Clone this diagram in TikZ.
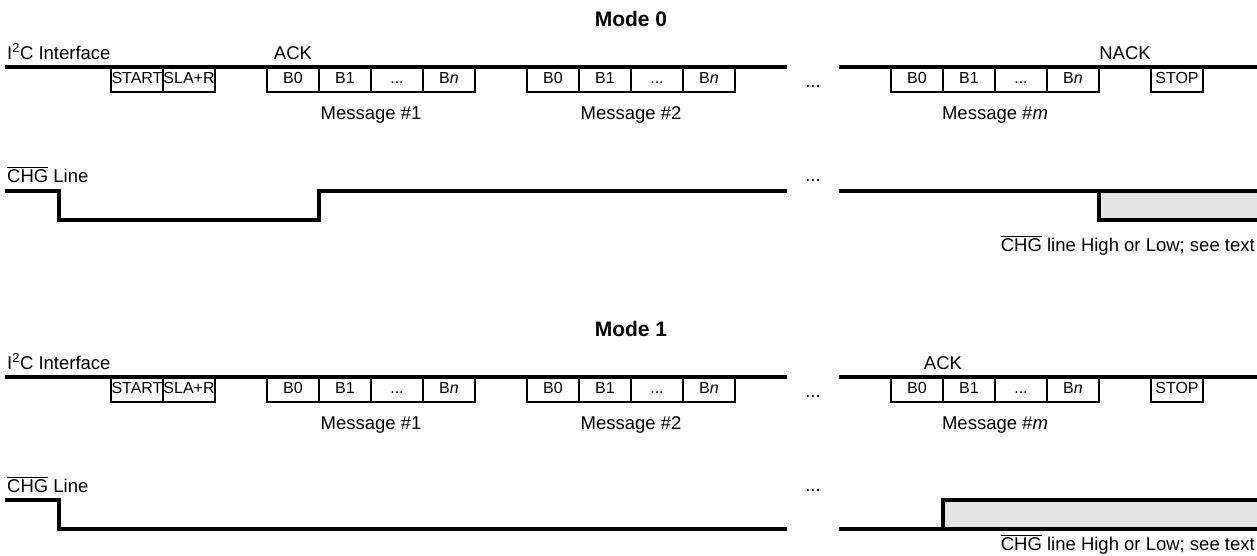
\documentclass[tikz,border=0pt]{standalone}
\usepackage{fontspec}
\setmainfont{Liberation Sans}
\usetikzlibrary{positioning}

\begin{document}
\begin{tikzpicture}[
  x=1pt, y=-1pt,
  lbl/.style={font=\fontsize{18.5}{22}\selectfont, inner sep=0pt},
  ttl/.style={font=\fontsize{21}{25}\selectfont\bfseries, inner sep=0pt},
  cell/.style={rectangle, draw, line width=1.6pt, minimum width=52pt,
               minimum height=25pt, inner sep=0pt, outer sep=0pt,
               text height=11.5pt, text depth=3pt,
               font=\fontsize{16}{19}\selectfont},
  bus/.style={line width=3.6pt},
  hold/.style={fill=black!10}
]
\useasboundingbox (0,0) rectangle (1257,555);
%% common part of both modes
\foreach \md/\yo in {0/0, 1/310} {
\begin{scope}[shift={(0,\yo)}]
  \node[ttl, anchor=base] (ttl\md) at (631,26) {Mode \md};
  \node[lbl, anchor=base west] (i2c\md) at (7,59) {I\textsuperscript{2}C Interface};
  %% bus line
  \draw[bus] (5,67) -- (787,67);
  \draw[bus] (839,67) -- (1257,67);
  \node[lbl, anchor=base] (bdots\md) at (813,87) {...};
  %% frames
  \node[cell] (start\md) at (137,79.5) {START};
  \node[cell, right=0pt of start\md] (sla\md) {SLA+R};
  \foreach \k/\xb/\txt in {1/267/1, 2/527/2, m/891/\textit{m}} {
    \node[cell] (bz\k\md) at (\xb+26,79.5) {B0};
    \node[cell, right=0pt of bz\k\md] (bo\k\md) {B1};
    \node[cell, right=0pt of bo\k\md] (bd\k\md) {...};
    \node[cell, right=0pt of bd\k\md] (bn\k\md) {B\textit{n}};
    \node[lbl, anchor=base] (msg\k\md) at (\xb+104,119) {Message \#\txt};
  }
  \node[cell] (stop\md) at (1177,79.5) {STOP};
  %% CHG row
  \node[lbl, anchor=base west] (chg\md) at (7,182) {$\overline{\mbox{CHG}}$ Line};
  \node[lbl, anchor=base] (cdots\md) at (813,181) {...};
\end{scope}
}
%% mode 0
\node[lbl, anchor=base] (ack0) at (293,59) {ACK};
\node[lbl, anchor=base] (nack0) at (1125,59) {NACK};
\fill[hold] (1099,191) rectangle (1257,220);
\draw[bus] (5,191) -- (59,191) -- (59,220) -- (319,220) -- (319,191) -- (787,191);
\draw[bus] (839,191) -- (1257,191);
\draw[bus] (1099,191) -- (1099,220) -- (1257,220);
\node[lbl, anchor=base east] (note0) at (1255,251)
    {$\overline{\mbox{CHG}}$ line High or Low; see text};
%% mode 1
\node[lbl, anchor=base] (ack1) at (943,369) {ACK};
\fill[hold] (943,500) rectangle (1257,529);
\draw[bus] (5,500) -- (59,500) -- (59,529) -- (787,529);
\draw[bus] (839,529) -- (1257,529);
\draw[bus] (943,529) -- (943,500) -- (1257,500);
\node[lbl, anchor=base east] (note1) at (1255,550)
    {$\overline{\mbox{CHG}}$ line High or Low; see text};
\end{tikzpicture}
\end{document}
